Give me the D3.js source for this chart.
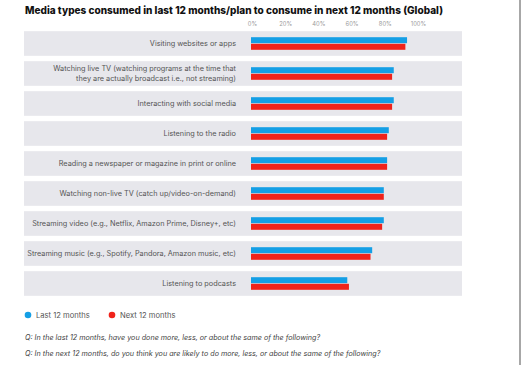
<!DOCTYPE html>
<html><head><meta charset="utf-8">
<script src="https://cdn.jsdelivr.net/npm/d3@7"></script>
<style>html,body{margin:0;padding:0;background:#fff;}svg{display:block;}</style>
</head><body>
<svg id="c" width="521" height="365"></svg>
<script>
const categories = [
  ["Visiting websites or apps"],
  ["Watching live TV (watching programs at the time that", "they are actually broadcast i.e., not streaming)"],
  ["Interacting with social media"],
  ["Listening to the radio"],
  ["Reading a newspaper or magazine in print or online"],
  ["Watching non-live TV (catch up/video-on-demand)"],
  ["Streaming video (e.g., Netflix, Amazon Prime, Disney+, etc)"],
  ["Streaming music (e.g., Spotify, Pandora, Amazon music, etc)"],
  ["Listening to podcasts"]
];
const last12 = [94, 86, 86, 83, 82, 80, 80, 73, 58];
const next12 = [93, 85, 85, 82, 82, 80, 79, 72, 59];
const tickValues = [0, 20, 40, 60, 80, 100];
const tickLabels = ["0%", "20%", "40%", "60%", "80%", "100%"];
const seriesNames = ["Last 12 months", "Next 12 months"];
const colors = ["#159fe5", "#f0231b"];
const title = "Media types consumed in last 12 months/plan to consume in next 12 months (Global)";
const notes = [
  "Q: In the last 12 months, have you done more, less, or about the same of the following?",
  "Q: In the next 12 months, do you think you are likely to do more, less, or about the same of the following?"
];

const svg = d3.select("#c");
const font = "Inter, 'Noto Sans', sans-serif";

// frame line on right
svg.append("line").attr("x1", 520).attr("x2", 520).attr("y1", 0).attr("y2", 365)
  .attr("stroke", "#8a8a8a").attr("stroke-width", 1.5);

// title
svg.append("text").attr("x", 25).attr("y", 13.5)
  .attr("font-family", font).attr("font-weight", 800).attr("font-size", 10.2)
  .attr("fill", "#111").attr("textLength", 418).attr("lengthAdjust", "spacingAndGlyphs")
  .text(title);

const x = d3.scaleLinear().domain([0, 100]).range([251, 417]);
const y = d3.scaleBand().domain(d3.range(categories.length)).range([28.5, 298.5]).paddingInner(0.18).paddingOuter(0.09);

// ticks
svg.append("g").selectAll("text").data(tickValues).join("text")
  .attr("x", d => x(d) + 1.5).attr("y", 25.5).attr("text-anchor", "middle")
  .attr("font-family", font).attr("font-size", 5.8).attr("fill", "#9a9a9a")
  .text((d, i) => tickLabels[i]);

const rows = svg.append("g").selectAll("g").data(categories).join("g")
  .attr("transform", (d, i) => `translate(0,${y(i)})`);

rows.append("rect").attr("x", 24).attr("width", 438).attr("y", 0).attr("height", y.bandwidth())
  .attr("fill", "#e7e7ec");

const bh = 6;
rows.append("rect").attr("x", x(0)).attr("y", d => y.bandwidth()/2 - bh - 0.3).attr("height", bh)
  .attr("width", (d, i) => x(last12[i]) - x(0)).attr("fill", colors[0]);
rows.append("rect").attr("x", x(0)).attr("y", y.bandwidth()/2 + 0.3).attr("height", bh)
  .attr("width", (d, i) => x(next12[i]) - x(0)).attr("fill", colors[1]);

rows.each(function(lines) {
  const g = d3.select(this);
  const h = y.bandwidth();
  lines.forEach((t, j) => {
    g.append("text").attr("x", 236).attr("text-anchor", "end")
      .attr("y", h/2 + 2.7 + (j - (lines.length - 1)/2) * 10)
      .attr("font-family", font).attr("font-size", 7.3).attr("fill", "#555")
      .text(t);
  });
});

// legend
const legX = [28, 112];
seriesNames.forEach((n, i) => {
  svg.append("circle").attr("cx", legX[i]).attr("cy", 315).attr("r", 3.3).attr("fill", colors[i]);
  svg.append("text").attr("x", legX[i] + 8).attr("y", 317.8)
    .attr("font-family", font).attr("font-size", 7.6).attr("fill", "#555").text(n);
});

// notes
notes.forEach((t, i) => {
  svg.append("text").attr("x", 25).attr("y", 339.5 + i * 16)
    .attr("font-family", font).attr("font-style", "italic").attr("font-size", 7.2).attr("fill", "#444")
    .text(t);
});
</script>
</body></html>
